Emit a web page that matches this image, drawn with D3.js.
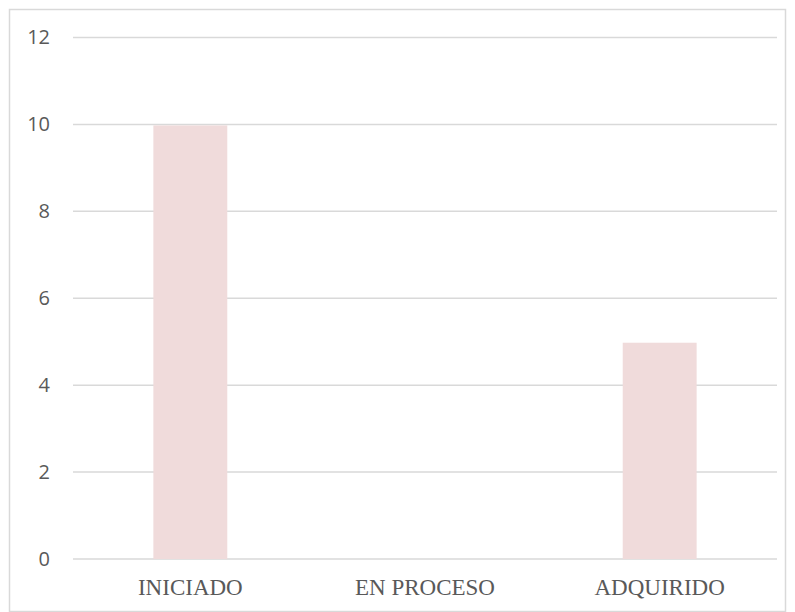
<!DOCTYPE html>
<html>
<head>
<meta charset="utf-8">
<script src="https://cdn.jsdelivr.net/npm/d3@7"></script>
<style>
  body { margin: 0; background: #fff; }
</style>
</head>
<body>
<script>
var categories = ["INICIADO", "EN PROCESO", "ADQUIRIDO"];
var values = [10, 0, 5];
var yTicks = [0, 2, 4, 6, 8, 10, 12];

var W = 795, H = 612;
var margin = {top: 37.5, right: 18, bottom: 53, left: 73},
    width = W - margin.left - margin.right,
    height = H - margin.top - margin.bottom;

var svg = d3.select("body").append("svg")
    .attr("width", W)
    .attr("height", H);

// outer frame
svg.append("rect")
    .attr("x", 9.5).attr("y", 9.5)
    .attr("width", W - 19).attr("height", H - 10)
    .attr("fill", "#fff")
    .attr("stroke", "#d9d9d9")
    .attr("stroke-width", 1.5);

var g = svg.append("g")
    .attr("transform", "translate(" + margin.left + "," + margin.top + ")");

var x = d3.scaleBand()
    .domain(categories)
    .range([0, width])
    .paddingInner(0.685)
    .paddingOuter(0.3425);

var y = d3.scaleLinear()
    .domain([0, 12])
    .range([height, 0]);

// gridlines
g.selectAll(".grid")
    .data(yTicks)
  .enter().append("line")
    .attr("class", "grid")
    .attr("x1", 0).attr("x2", width)
    .attr("y1", function(d) { return y(d); })
    .attr("y2", function(d) { return y(d); })
    .attr("stroke", "#d9d9d9")
    .attr("stroke-width", 1.5);

// bars
g.selectAll(".bar")
    .data(values)
  .enter().append("rect")
    .attr("class", "bar")
    .attr("x", function(d, i) { return x(categories[i]); })
    .attr("width", x.bandwidth())
    .attr("y", function(d) { return y(d) + 1; })
    .attr("height", function(d) { return Math.max(0, height - y(d) - 1); })
    .attr("fill", "#f0dbdb");

// y axis labels
var yAxis = d3.axisLeft(y).tickValues(yTicks).tickSize(0).tickPadding(23);
g.append("g")
    .call(yAxis)
    .call(function(a) { a.select(".domain").remove(); })
    .selectAll("text")
    .attr("fill", "#595959")
    .style("font-family", "'Open Sans', sans-serif")
    .style("font-size", "20px");

// x axis labels
var xAxis = d3.axisBottom(x).tickSize(0).tickPadding(20);
g.append("g")
    .attr("transform", "translate(0," + height + ")")
    .call(xAxis)
    .call(function(a) { a.select(".domain").remove(); })
    .selectAll("text")
    .attr("fill", "#595959")
    .style("font-family", "'Liberation Serif', 'Times New Roman', serif")
    .style("font-size", "23px");
</script>
</body>
</html>
